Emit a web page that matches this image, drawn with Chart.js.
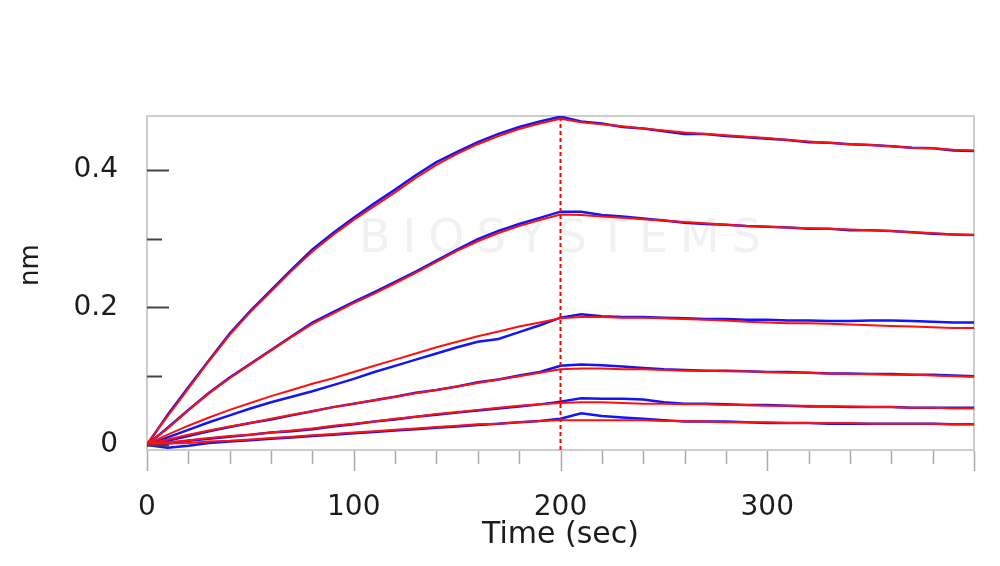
<!DOCTYPE html>
<html lang="en">
<head>
  <meta charset="UTF-8" />
  <title>Binding kinetics</title>
  <script src="https://cdn.jsdelivr.net/npm/chart.js"></script>
  <style>
    * { box-sizing: border-box; margin: 0; padding: 0; }
    body { background: white; }
    .chart-box { position: relative; width: 1000px; height: 566px; }
  </style>
</head>
<body>
  <div class="chart-box">
    <canvas id="kinetics"></canvas>
  </div>

  <script>
    // time axis (sec), one sample every 10 s
    const timeSec = [0, 10, 20, 30, 40, 50, 60, 70, 80, 90, 100, 110, 120, 130, 140, 150, 160, 170, 180, 190, 200,
                     210, 220, 230, 240, 250, 260, 270, 280, 290, 300, 310, 320, 330, 340, 350, 360, 370, 380, 390, 400];
    const switchTime = 200;
    const yMin = -0.0073, yMax = 0.478;

    // red fitted curves (nm)
    const fit1 = [0.002, 0.042, 0.082, 0.122, 0.160, 0.193, 0.223, 0.253, 0.281, 0.305, 0.327, 0.347, 0.367, 0.388, 0.407, 0.423, 0.437, 0.449, 0.459, 0.467, 0.474,
                  0.469, 0.466, 0.463, 0.460, 0.457, 0.454, 0.452, 0.450, 0.448, 0.446, 0.443, 0.441, 0.439, 0.437, 0.436, 0.434, 0.432, 0.431, 0.429, 0.428];
    const fit2 = [0.001, 0.024, 0.050, 0.075, 0.097, 0.117, 0.137, 0.157, 0.176, 0.191, 0.206, 0.220, 0.235, 0.250, 0.266, 0.282, 0.296, 0.308, 0.318, 0.327, 0.335,
                  0.334, 0.332, 0.330, 0.328, 0.326, 0.324, 0.322, 0.320, 0.318, 0.317, 0.316, 0.315, 0.314, 0.313, 0.312, 0.311, 0.309, 0.308, 0.306, 0.305];
    const fit3 = [0.001, 0.015, 0.028, 0.040, 0.051, 0.061, 0.071, 0.080, 0.089, 0.097, 0.106, 0.115, 0.124, 0.133, 0.142, 0.150, 0.158, 0.165, 0.172, 0.178, 0.184,
                  0.186, 0.186, 0.185, 0.185, 0.184, 0.183, 0.182, 0.181, 0.179, 0.178, 0.177, 0.177, 0.176, 0.175, 0.174, 0.173, 0.172, 0.171, 0.170, 0.170];
    const fit4 = [0.001, 0.008, 0.015, 0.021, 0.027, 0.032, 0.038, 0.044, 0.049, 0.055, 0.060, 0.065, 0.070, 0.075, 0.080, 0.085, 0.090, 0.095, 0.100, 0.105, 0.110,
                  0.111, 0.111, 0.110, 0.110, 0.109, 0.108, 0.108, 0.107, 0.107, 0.106, 0.105, 0.105, 0.104, 0.103, 0.103, 0.102, 0.102, 0.101, 0.100, 0.099];
    const fit5 = [0.001, 0.004, 0.007, 0.010, 0.013, 0.015, 0.018, 0.021, 0.024, 0.028, 0.031, 0.034, 0.038, 0.041, 0.045, 0.048, 0.051, 0.054, 0.057, 0.059, 0.061,
                  0.062, 0.062, 0.061, 0.060, 0.060, 0.059, 0.059, 0.058, 0.058, 0.057, 0.057, 0.057, 0.056, 0.056, 0.055, 0.055, 0.054, 0.054, 0.053, 0.053];
    const fit6 = [0.001, 0.002, 0.003, 0.005, 0.006, 0.008, 0.010, 0.012, 0.014, 0.016, 0.018, 0.020, 0.022, 0.024, 0.026, 0.028, 0.030, 0.031, 0.033, 0.035, 0.036,
                  0.036, 0.036, 0.036, 0.036, 0.035, 0.035, 0.034, 0.033, 0.033, 0.033, 0.032, 0.032, 0.032, 0.032, 0.031, 0.031, 0.031, 0.031, 0.030, 0.030];

    // blue measured traces (nm)
    const raw1 = [0.000, 0.044, 0.084, 0.123, 0.162, 0.195, 0.225, 0.255, 0.284, 0.308, 0.330, 0.351, 0.371, 0.392, 0.411, 0.426, 0.440, 0.452, 0.462, 0.470, 0.477,
                  0.470, 0.467, 0.462, 0.460, 0.456, 0.452, 0.452, 0.449, 0.447, 0.445, 0.443, 0.440, 0.439, 0.437, 0.436, 0.434, 0.432, 0.431, 0.428, 0.427];
    const raw2 = [0.000, 0.025, 0.051, 0.076, 0.098, 0.118, 0.138, 0.158, 0.178, 0.193, 0.208, 0.222, 0.237, 0.252, 0.268, 0.284, 0.299, 0.311, 0.321, 0.330, 0.339,
                  0.339, 0.334, 0.332, 0.329, 0.326, 0.323, 0.321, 0.320, 0.318, 0.317, 0.316, 0.314, 0.314, 0.312, 0.312, 0.311, 0.309, 0.307, 0.306, 0.305];
    const raw3 = [0.000, 0.011, 0.022, 0.033, 0.043, 0.053, 0.062, 0.070, 0.078, 0.087, 0.096, 0.106, 0.115, 0.124, 0.133, 0.142, 0.150, 0.154, 0.164, 0.174, 0.185,
                  0.190, 0.187, 0.186, 0.186, 0.185, 0.184, 0.183, 0.183, 0.182, 0.182, 0.181, 0.181, 0.180, 0.180, 0.181, 0.181, 0.180, 0.179, 0.178, 0.178];
    const raw4 = [0.000, 0.006, 0.013, 0.020, 0.026, 0.032, 0.037, 0.043, 0.049, 0.055, 0.060, 0.065, 0.070, 0.076, 0.080, 0.085, 0.091, 0.095, 0.101, 0.106, 0.115,
                  0.117, 0.116, 0.114, 0.112, 0.110, 0.109, 0.108, 0.108, 0.107, 0.106, 0.106, 0.105, 0.104, 0.104, 0.103, 0.103, 0.102, 0.102, 0.101, 0.100];
    const raw5 = [0.000, 0.002, 0.006, 0.009, 0.012, 0.015, 0.018, 0.020, 0.023, 0.027, 0.030, 0.034, 0.037, 0.041, 0.044, 0.047, 0.050, 0.053, 0.056, 0.059, 0.063,
                  0.068, 0.067, 0.067, 0.066, 0.062, 0.060, 0.060, 0.059, 0.058, 0.058, 0.057, 0.056, 0.056, 0.055, 0.055, 0.055, 0.054, 0.054, 0.054, 0.054];
    const raw6 = [0.000, -0.004, -0.001, 0.003, 0.005, 0.007, 0.009, 0.011, 0.013, 0.015, 0.017, 0.019, 0.021, 0.023, 0.025, 0.027, 0.029, 0.031, 0.033, 0.035, 0.038,
                  0.046, 0.042, 0.040, 0.038, 0.036, 0.034, 0.034, 0.034, 0.033, 0.032, 0.032, 0.032, 0.031, 0.031, 0.031, 0.031, 0.031, 0.031, 0.030, 0.030];

    const fits = [fit1, fit2, fit3, fit4, fit5, fit6];
    const raws = [raw1, raw2, raw3, raw4, raw5, raw6];

    const toPoints = arr => timeSec.map((t, i) => ({ x: t, y: arr[i] }));

    const datasets = [];
    raws.forEach(arr => datasets.push({
      data: toPoints(arr), borderColor: '#1414f5', borderWidth: 2.5, pointRadius: 0, order: 3
    }));
    fits.forEach(arr => datasets.push({
      data: toPoints(arr), borderColor: '#ff1010', borderWidth: 2, pointRadius: 0, order: 2
    }));
    // association/dissociation switch marker
    datasets.push({
      data: [{ x: switchTime, y: yMin }, { x: switchTime, y: yMax }],
      borderColor: '#ff0000', borderWidth: 2, borderDash: [4, 3], pointRadius: 0, order: 1
    });

    const isMajorY = v => Math.abs(Math.round(v * 10) % 2) === 0;
    const isMajorX = v => v % 100 === 0;

    // frame, inward y ticks, outward x ticks, watermark and y title
    const decorations = {
      id: 'decorations',
      beforeDatasetsDraw(chart) {
        const { ctx, chartArea: a } = chart;
        ctx.save();
        ctx.fillStyle = '#f1f1f1';
        ctx.font = '46px "DejaVu Sans"';
        ctx.letterSpacing = '12px';
        ctx.textAlign = 'center';
        ctx.textBaseline = 'middle';
        ctx.fillText('BIOSYSTEMS', 566, 240);
        ctx.letterSpacing = '0px';
        ctx.strokeStyle = '#cdcdcd';
        ctx.lineWidth = 2;
        ctx.strokeRect(a.left, a.top, a.right - a.left, a.bottom - a.top);
        ctx.restore();
      },
      afterDraw(chart) {
        const { ctx, chartArea: a, scales: { x, y } } = chart;
        ctx.save();
        ctx.strokeStyle = '#444';
        ctx.lineWidth = 2;
        y.ticks.forEach(t => {
          const py = Math.round(y.getPixelForValue(t.value)) + 0.5;
          const len = isMajorY(t.value) ? 22 : 15;
          ctx.beginPath(); ctx.moveTo(a.left, py); ctx.lineTo(a.left + len, py); ctx.stroke();
        });
        ctx.strokeStyle = '#aaa';
        ctx.lineWidth = 1.5;
        x.ticks.forEach(t => {
          const px = Math.round(x.getPixelForValue(t.value)) + 0.5;
          const len = isMajorX(t.value) ? 20 : 13;
          ctx.beginPath(); ctx.moveTo(px, a.bottom + 1); ctx.lineTo(px, a.bottom + 1 + len); ctx.stroke();
        });
        ctx.fillStyle = '#1c1c1c';
        ctx.font = '26px "DejaVu Sans"';
        ctx.textAlign = 'center';
        ctx.textBaseline = 'middle';
        ctx.translate(31, 265);
        ctx.rotate(-Math.PI / 2);
        ctx.fillText('nm', 0, 0);
        ctx.restore();
      }
    };

    Chart.defaults.font.family = '"DejaVu Sans", sans-serif';
    Chart.defaults.color = '#1c1c1c';

    new Chart(document.getElementById('kinetics'), {
      type: 'line',
      data: { datasets },
      options: {
        responsive: true,
        maintainAspectRatio: false,
        animation: false,
        layout: { padding: { top: 116, right: 26, left: 0, bottom: 0 } },
        plugins: { legend: { display: false }, tooltip: { enabled: false } },
        elements: { line: { tension: 0 } },
        scales: {
          x: {
            type: 'linear',
            min: 0,
            max: 400,
            grid: { display: false },
            border: { display: false },
            ticks: {
              stepSize: 20,
              autoSkip: false,
              maxRotation: 0,
              padding: 33,
              font: { size: 28 },
              callback: v => (v % 100 === 0 && v < 400) ? String(v) : ''
            },
            title: {
              display: true,
              text: 'Time (sec)',
              font: { size: 30 },
              padding: { top: 0, bottom: 13 }
            },
            afterFit: s => { s.height = 116; s.paddingLeft = 0; s.paddingRight = 0; }
          },
          y: {
            min: yMin,
            max: yMax,
            grid: { display: false },
            border: { display: false },
            ticks: {
              stepSize: 0.1,
              includeBounds: false,
              autoSkip: false,
              padding: 21,
              font: { size: 28 },
              callback: v => isMajorY(v) ? (Math.abs(v) < 1e-9 ? '0' : v.toFixed(1)) : ''
            },
            afterFit: s => { s.width = 147; s.paddingTop = 0; s.paddingBottom = 0; }
          }
        }
      },
      plugins: [decorations]
    });
  </script>
</body>
</html>
